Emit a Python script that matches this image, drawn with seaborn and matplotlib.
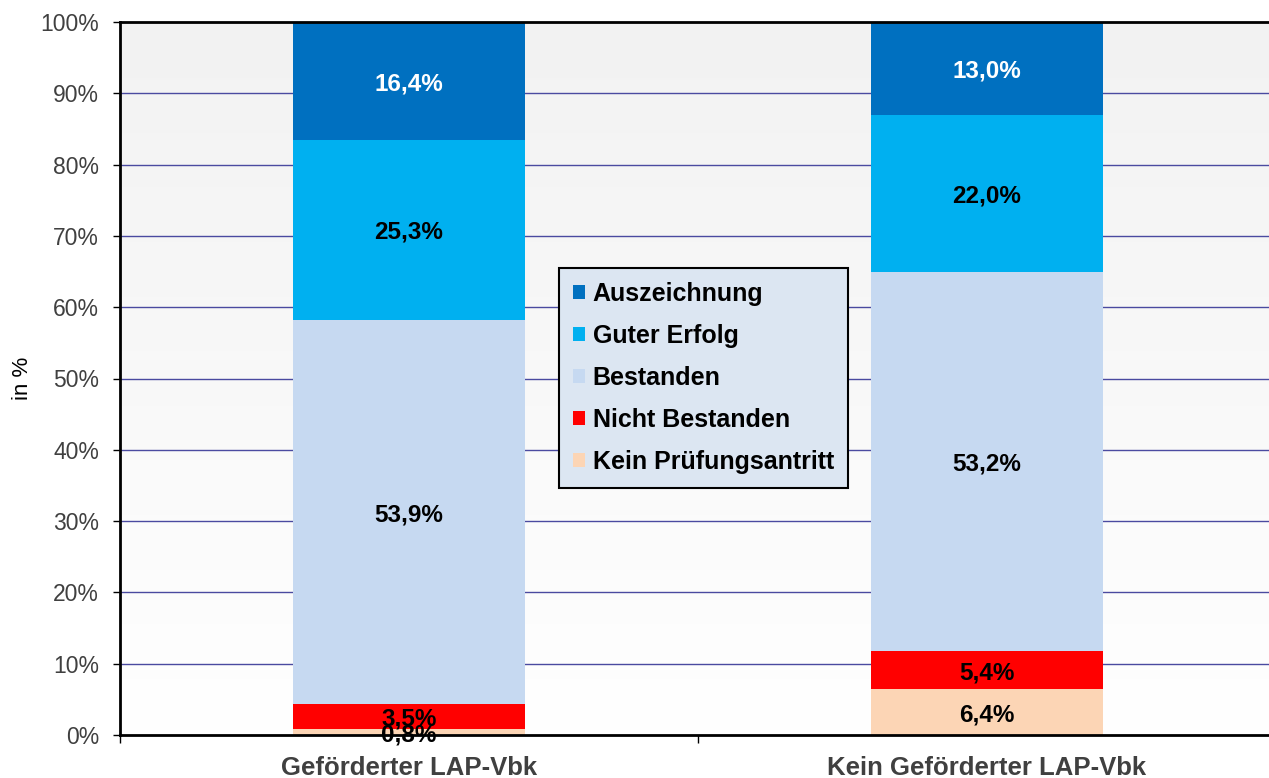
import numpy as np
import pandas as pd
import matplotlib
matplotlib.use("Agg")
import matplotlib.pyplot as plt
import seaborn as sns
from matplotlib.ticker import FuncFormatter, FixedLocator
from matplotlib.patches import Patch

# data (percent), bottom -> top
groups = ["Geförderter LAP-Vbk", "Kein Geförderter LAP-Vbk"]
categories = ["Kein Prüfungsantritt", "Nicht Bestanden", "Bestanden", "Guter Erfolg", "Auszeichnung"]
kein_antritt = [0.8, 6.4]
nicht_bestanden = [3.5, 5.4]
bestanden = [53.9, 53.2]
guter_erfolg = [25.3, 22.0]
auszeichnung = [16.4, 13.0]

colors = {
    "Auszeichnung": "#0070C0",
    "Guter Erfolg": "#00B0F0",
    "Bestanden": "#C6D9F1",
    "Nicht Bestanden": "#FF0000",
    "Kein Prüfungsantritt": "#FCD5B5",
}
label_colors = {
    "Auszeichnung": "white",
    "Guter Erfolg": "black",
    "Bestanden": "black",
    "Nicht Bestanden": "black",
    "Kein Prüfungsantritt": "black",
}

sns.set_theme(style="white")
plt.rcParams["font.family"] = ["Liberation Sans", "DejaVu Sans"]

df = pd.DataFrame({
    "group": groups,
    "Kein Prüfungsantritt": kein_antritt,
    "Nicht Bestanden": nicht_bestanden,
    "Bestanden": bestanden,
    "Guter Erfolg": guter_erfolg,
    "Auszeichnung": auszeichnung,
})
cum = df[categories].cumsum(axis=1)

fig = plt.figure(figsize=(12.69, 7.78), dpi=100)
ax = fig.add_axes([120 / 1269, 1 - 735 / 778, 1156 / 1269, 713 / 778])

# gradient background
grad = np.linspace(0, 1, 256).reshape(-1, 1)
ax.imshow(grad, extent=(-0.5, 1.5, 0, 100), aspect="auto", origin="lower",
          cmap=matplotlib.colors.LinearSegmentedColormap.from_list("bg", ["#ffffff", "#f2f2f2"]),
          zorder=0)

# gridlines
for y in range(10, 100, 10):
    ax.axhline(y, color="#4a4aa0", lw=1.0, zorder=1)

# stacked bars: draw cumulative totals from top to bottom
for cat in reversed(categories):
    sns.barplot(x=df["group"], y=cum[cat], color=colors[cat], width=0.4,
                saturation=1, ax=ax, zorder=2, linewidth=0)

# value labels
for i in range(len(groups)):
    base = 0
    for cat in categories:
        v = df[cat].iloc[i]
        ax.text(i, base + v / 2, f"{v:.1f}%".replace(".", ","), ha="center", va="center_baseline",
                fontsize=17.5, fontweight="bold", color=label_colors[cat], zorder=4)
        base += v

ax.set_xlim(-0.5, 1.5)
ax.set_ylim(0, 100)
ax.set_yticks(range(0, 101, 10))
ax.yaxis.set_major_formatter(FuncFormatter(lambda v, _: f"{v:.0f}%"))
ax.tick_params(axis="y", labelsize=16.5, labelcolor="#404040", length=5, width=1, color="black",
               direction="out", left=True, pad=10)
ax.set_xticks([0, 1])
ax.set_xticklabels(groups, fontsize=18.5, fontweight="bold", color="#404040")
ax.tick_params(axis="x", length=0, pad=15)
ax.xaxis.set_minor_locator(FixedLocator([-0.5, 0.5, 1.5]))
ax.tick_params(axis="x", which="minor", length=6, width=1, color="black", bottom=True)
ax.set_xlabel("")
ax.set_ylabel("in %", fontsize=16, color="black", labelpad=5)

for side in ["left", "top", "bottom"]:
    ax.spines[side].set_visible(True)
    ax.spines[side].set_color("black")
    ax.spines[side].set_linewidth(2)
    ax.spines[side].set_zorder(5)
ax.spines["right"].set_visible(False)

handles = [Patch(facecolor=colors[c], edgecolor="none", label=c) for c in reversed(categories)]
leg = ax.legend(handles=handles, loc="upper left", bbox_to_anchor=(559 / 1269, 1 - 268 / 778),
                bbox_transform=fig.transFigure, frameon=True, fancybox=False,
                prop={"size": 18, "weight": "bold"}, labelcolor="black",
                handlelength=0.5, handleheight=0.5,
                handletextpad=0.3, labelspacing=0.72, borderpad=0.55, borderaxespad=0)
leg.get_frame().set_facecolor("#DCE6F2")
leg.get_frame().set_edgecolor("black")
leg.get_frame().set_linewidth(1.5)
leg.get_frame().set_alpha(1)
leg.set_zorder(6)

fig.savefig("out.png", dpi=100)
